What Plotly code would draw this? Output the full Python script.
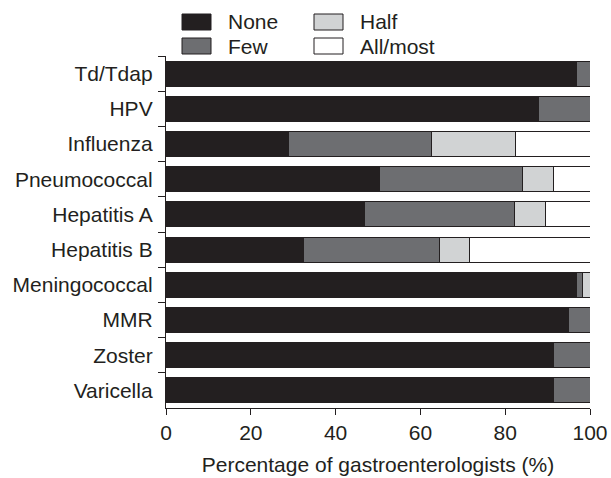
import plotly.graph_objects as go

vaccines = ["Td/Tdap", "HPV", "Influenza", "Pneumococcal", "Hepatitis A",
            "Hepatitis B", "Meningococcal", "MMR", "Zoster", "Varicella"]
none_vals = [96.7, 87.9, 28.9, 50.3, 46.7, 32.4, 96.8, 94.9, 91.5, 91.3]
few_vals = [3.3, 12.1, 33.6, 33.8, 35.6, 32.0, 1.5, 5.1, 8.5, 8.7]
half_vals = [0.0, 0.0, 19.9, 7.2, 7.1, 7.1, 1.7, 0.0, 0.0, 0.0]
allmost_vals = [0.0, 0.0, 17.6, 8.7, 10.6, 28.5, 0.0, 0.0, 0.0, 0.0]

series_names = ["None", "Few", "Half", "All/most"]
series_colors = ["#231f20", "#6d6e71", "#d1d3d4", "#ffffff"]
series_values = [none_vals, few_vals, half_vals, allmost_vals]
x_ticks = [0, 20, 40, 60, 80, 100]

FONT = "Liberation Sans, Arial, sans-serif"
EDGE = "#231f20"
FS = 21

fig = go.Figure()
for name, color, vals in zip(series_names, series_colors, series_values):
    fig.add_trace(go.Bar(
        y=vaccines, x=vals, name=name, orientation="h",
        marker=dict(color=color, line=dict(color=EDGE, width=1)),
        width=0.71, showlegend=False,
    ))

W, H = 611, 478
L, R, T, B = 166, 21, 56, 70
pw, ph = W - L - R, H - T - B

def px(x):
    return (x - L) / pw

def py(y):
    return (H - B - y) / ph

# manual legend (2 x 2 grid)
legend_cells = [(0, 0), (1, 0), (0, 1), (1, 1)]  # (row, col) for None, Few, Half, All/most
col_x = [182, 314]
row_y = [22, 46]
shapes = []
annotations = []
for (row, col), name, color in zip(legend_cells, series_names, series_colors):
    x0 = col_x[col]
    yc = row_y[row]
    shapes.append(dict(type="rect", xref="paper", yref="paper",
                       x0=px(x0), x1=px(x0 + 29), y0=py(yc + 8), y1=py(yc - 8),
                       fillcolor=color, line=dict(color=EDGE, width=1)))
    annotations.append(dict(xref="paper", yref="paper", x=px(x0 + 44), y=py(yc),
                            text=name, showarrow=False, xanchor="left", yanchor="middle",
                            font=dict(family=FONT, size=FS, color="#231f20")))

fig.update_layout(
    barmode="stack",
    width=W, height=H,
    margin=dict(l=L, r=R, t=T, b=B, pad=0, autoexpand=False),
    paper_bgcolor="white", plot_bgcolor="white",
    font=dict(family=FONT, size=FS, color="#231f20"),
    shapes=shapes, annotations=annotations,
)
fig.update_xaxes(
    range=[0, 100], tickvals=x_ticks, ticktext=[str(v) for v in x_ticks],
    showline=True, linecolor=EDGE, linewidth=1.3, mirror=False,
    ticks="outside", ticklen=6, tickcolor=EDGE, tickwidth=1.3,
    showgrid=False, zeroline=False, automargin=False,
    title=dict(text="Percentage of gastroenterologists (%)", standoff=13,
               font=dict(family=FONT, size=FS)),
    tickfont=dict(family=FONT, size=FS),
)
fig.update_yaxes(
    categoryorder="array", categoryarray=vaccines, autorange=False,
    range=[9.5, -0.5],
    showline=True, linecolor=EDGE, linewidth=1.3,
    ticks="outside", tickson="boundaries", ticklen=7, tickcolor=EDGE, tickwidth=1.3,
    showgrid=False, zeroline=False, automargin=False,
    tickfont=dict(family=FONT, size=FS),
    ticklabelstandoff=8,
)

fig.write_html("out.html", post_script="document.body.style.margin='0';",
               config={"displayModeBar": False})
